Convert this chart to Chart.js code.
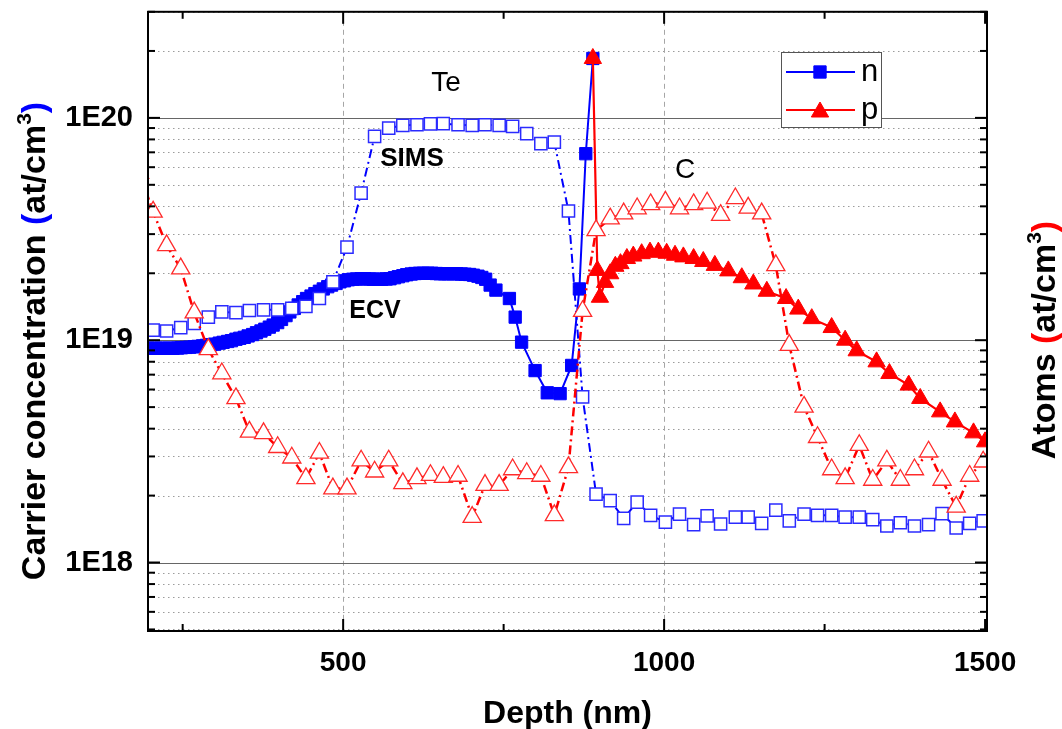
<!DOCTYPE html>
<html>
<head>
<meta charset="utf-8">
<title>Carrier and dopant depth profiles</title>
<script src="https://cdn.jsdelivr.net/npm/chart.js@4.4.1/dist/chart.umd.min.js"></script>
<style>
  html, body { margin: 0; padding: 0; background: #fff; }
  #wrap { width: 1062px; height: 729px; }
</style>
</head>
<body>
<div id="wrap"><canvas id="profile" width="1062" height="729"></canvas></div>
<script>
// Concentrations are listed in units of 1E18 at/cm3.
const UNIT = 1e18;

// SIMS profiles share one depth grid (nm).
const simsDepth = [183, 204, 225, 247, 268, 290, 311, 333, 354, 376,
  398, 420, 442, 463, 484, 506, 528, 549, 571, 593,
  615, 636, 656, 679, 701, 721, 743, 764, 786, 808,
  829, 851, 873, 894, 916, 937, 958, 979, 1002, 1024,
  1046, 1067, 1088, 1111, 1131, 1152, 1174, 1195, 1218, 1239,
  1261, 1282, 1304, 1325, 1347, 1368, 1390, 1412, 1433, 1455,
  1476, 1497, 1519];

// Te atoms (SIMS)
const teSims = [null, 11.1, 11.0, 11.4, 11.9, 12.7, 13.4, 13.3, 13.6, 13.7,
  13.7, 13.9, 14.2, 15.4, 18.3, 26.2, 45.9, 82.6, 89.9, 92.5,
  93.1, 94.0, 94.2, 93.1, 92.5, 93.1, 92.5, 91.6, 84.9, 76.6,
  77.8, 38.1, 5.56, 2.03, 1.90, 1.58, 1.87, 1.63, 1.52, 1.65,
  1.48, 1.62, 1.49, 1.60, 1.60, 1.50, 1.72, 1.54, 1.65, 1.63,
  1.63, 1.60, 1.60, 1.56, 1.46, 1.51, 1.46, 1.48, 1.66, 1.43,
  1.50, 1.54, null];

// C atoms (SIMS)
const cSims = [56.4, 37.8, 26.7, 21.0, 13.3, 9.1, 7.08, 5.47, 3.87, 3.81,
  3.30, 2.96, 2.39, 3.11, 2.15, 2.15, 2.87, 2.56, 2.87, 2.27,
  2.39, 2.47, 2.42, 2.45, 1.60, 2.23, 2.23, 2.62, 2.52, 2.45,
  1.63, 2.68, 13.5, 31.2, 35.2, 37.1, 39.1, 40.8, 41.9, 39.1,
  40.8, 41.5, 36.5, 43.4, 39.4, 37.1, 21.7, 9.5, 5.01, 3.66,
  2.62, 2.39, 3.37, 2.35, 2.87, 2.35, 2.62, 3.15, 2.35, 1.78,
  2.45, 2.84, 3.94];

// Electron concentration n (ECV)
const ecvNDepth = [190, 196, 203, 209, 216, 222, 229, 235, 242, 248,
  255, 261, 268, 274, 281, 287, 294, 300, 307, 313,
  320, 326, 333, 339, 346, 352, 359, 365, 372, 378,
  385, 391, 398, 404, 411, 417, 424, 430, 437, 443,
  450, 456, 463, 469, 476, 482, 489, 495, 502, 508,
  515, 521, 528, 534, 541, 547, 554, 560, 567, 573,
  580, 586, 593, 599, 606, 612, 619, 625, 632, 638,
  645, 651, 658, 664, 671, 677, 684, 690, 697, 703,
  710, 716, 722, 729, 738, 759, 768, 778, 799, 818,
  838, 856, 868, 878, 889];
const ecvN = [9.2, 9.2, 9.2, 9.2, 9.2, 9.2, 9.2, 9.2, 9.22, 9.25,
  9.28, 9.3, 9.33, 9.38, 9.43, 9.48, 9.55, 9.6, 9.7, 9.78,
  9.87, 9.95, 10.1, 10.2, 10.3, 10.45, 10.6, 10.8, 11.0, 11.2,
  11.45, 11.7, 12.0, 12.4, 12.9, 13.4, 13.9, 14.4, 14.9, 15.4,
  15.8, 16.2, 16.6, 17.0, 17.4, 17.7, 18.0, 18.3, 18.5, 18.7,
  18.8, 18.85, 18.9, 18.9, 18.85, 18.8, 18.8, 18.8, 18.85, 18.9,
  19.1, 19.3, 19.5, 19.7, 19.85, 19.95, 20.0, 20.0, 20.0, 20.0,
  19.95, 19.9, 19.9, 19.9, 19.9, 19.9, 19.85, 19.8, 19.75, 19.6,
  19.4, 19.15, 18.8, 17.7, 16.8, 15.4, 12.7, 9.8, 7.3, 5.8,
  5.75, 7.7, 17.0, 69, 185];

// Hole concentration p (ECV)
const ecvPDepth = [889, 896, 900, 908, 916, 924, 932, 942, 952, 965,
  978, 991, 1004, 1017, 1030, 1046, 1061, 1079, 1100, 1121,
  1139, 1160, 1190, 1209, 1230, 1261, 1282, 1300, 1331, 1351,
  1381, 1399, 1430, 1453, 1482, 1500];
const ecvP = [185, 20.6, 15.6, 18.2, 19.9, 21.5, 22.1, 23.3, 23.9, 24.5,
  24.9, 24.9, 24.6, 24.1, 23.7, 23.3, 22.6, 21.7, 20.5, 19.1,
  17.9, 16.6, 15.4, 13.8, 12.5, 11.4, 10.0, 8.96, 7.99, 7.08,
  6.28, 5.47, 4.76, 4.29, 3.83, 3.49];

// Axis ticks
const xTickValues = [500, 1000, 1500];
const xMinorTickValues = [250, 750, 1250];
const xGridValues = [500, 1000];
const yTickValues = [1e18, 1e19, 1e20];
const yTickLabels = ['1E18', '1E19', '1E20'];

const BLUE = '#0000ff';
const RED = '#ff0000';
const FONT = '"Liberation Sans", Arial, sans-serif';

function points(depths, values) {
  const out = [];
  depths.forEach((d, i) => {
    if (values[i] !== null) out.push({ x: d, y: values[i] * UNIT });
  });
  return out;
}

const DASH_DOT = [9, 4, 2, 4];

const decorations = {
  id: 'decorations',
  beforeDatasetsDraw(chart) {
    const { ctx, chartArea: a, scales: { x, y } } = chart;
    ctx.save();
    ctx.beginPath();
    ctx.rect(a.left, a.top, a.right - a.left, a.bottom - a.top);
    ctx.clip();
    // dotted minor lines of the log axis
    ctx.strokeStyle = '#9c9c9c';
    ctx.lineWidth = 1;
    ctx.setLineDash([1.5, 3.5]);
    for (let d = 17; d <= 20; d++) {
      for (let m = 2; m <= 9; m++) {
        const v = m * Math.pow(10, d);
        if (v < y.min || v > y.max) continue;
        const py = Math.round(y.getPixelForValue(v)) + 0.5;
        ctx.beginPath(); ctx.moveTo(a.left, py); ctx.lineTo(a.right, py); ctx.stroke();
      }
    }
    // dashed vertical grid
    ctx.strokeStyle = '#a6a6a6';
    ctx.setLineDash([5, 4]);
    xGridValues.forEach(v => {
      const px = Math.round(x.getPixelForValue(v)) + 0.5;
      ctx.beginPath(); ctx.moveTo(px, a.top); ctx.lineTo(px, a.bottom); ctx.stroke();
    });
    // solid decade lines
    ctx.setLineDash([]);
    ctx.strokeStyle = '#666';
    ctx.lineWidth = 1.2;
    yTickValues.forEach(v => {
      const py = Math.round(y.getPixelForValue(v)) + 0.5;
      ctx.beginPath(); ctx.moveTo(a.left, py); ctx.lineTo(a.right, py); ctx.stroke();
    });
    ctx.restore();
  },
  afterDatasetsDraw(chart) {
    const { ctx, chartArea: a, scales: { x, y } } = chart;
    ctx.save();
    // frame
    ctx.strokeStyle = '#000';
    ctx.lineWidth = 2;
    ctx.strokeRect(a.left, a.top, a.right - a.left, a.bottom - a.top);
    // inward tick marks
    const tick = (x1, y1, x2, y2) => { ctx.beginPath(); ctx.moveTo(x1, y1); ctx.lineTo(x2, y2); ctx.stroke(); };
    for (let d = 17; d <= 20; d++) {
      for (let m = 1; m <= 9; m++) {
        const v = m * Math.pow(10, d);
        if (v < y.min || v > y.max) continue;
        const py = y.getPixelForValue(v);
        const len = m === 1 ? 12 : 7;
        tick(a.left, py, a.left + len, py);
        tick(a.right, py, a.right - len, py);
      }
    }
    xTickValues.forEach(v => {
      const px = x.getPixelForValue(v);
      tick(px, a.bottom, px, a.bottom - 12);
      tick(px, a.top, px, a.top + 12);
    });
    xMinorTickValues.forEach(v => {
      const px = x.getPixelForValue(v);
      tick(px, a.bottom, px, a.bottom - 7);
      tick(px, a.top, px, a.top + 7);
    });

    // curve annotations
    ctx.fillStyle = '#000';
    ctx.textAlign = 'center';
    ctx.textBaseline = 'middle';
    ctx.font = '28px ' + FONT;
    ctx.fillText('Te', 446, 83);
    ctx.fillText('C', 685, 170);
    ctx.font = 'bold 26px ' + FONT;
    ctx.fillText('SIMS', 412, 159);
    ctx.font = 'bold 25px ' + FONT;
    ctx.fillText('ECV', 375, 311);

    // legend
    const lx = 781, ly = 52, lw = 100, lh = 75;
    ctx.fillStyle = '#fff';
    ctx.fillRect(lx, ly, lw, lh);
    ctx.strokeStyle = '#555';
    ctx.lineWidth = 1;
    ctx.strokeRect(lx + 0.5, ly + 0.5, lw, lh);
    const rows = [chart.data.datasets[0], chart.data.datasets[1]];
    rows.forEach((ds, i) => {
      const ry = ly + 20 + i * 38;
      ctx.strokeStyle = ds.borderColor;
      ctx.lineWidth = 2;
      ctx.beginPath(); ctx.moveTo(lx + 5, ry); ctx.lineTo(lx + 74, ry); ctx.stroke();
      ctx.fillStyle = ds.pointBackgroundColor;
      ctx.strokeStyle = ds.pointBorderColor;
      ctx.lineWidth = ds.pointBorderWidth;
      Chart.helpers.drawPoint(ctx, {
        pointStyle: ds.pointStyle, radius: ds.pointRadius, rotation: 0,
        borderWidth: ds.pointBorderWidth
      }, lx + 39, ry + (ds.pointStyle === 'triangle' ? 2 : 0));
      ctx.fillStyle = '#000';
      ctx.textAlign = 'left';
      ctx.textBaseline = 'middle';
      ctx.font = '31px ' + FONT;
      ctx.fillText(ds.label, lx + 80, ry);
    });

    // axis titles
    ctx.textBaseline = 'alphabetic';
    ctx.fillStyle = '#000';
    ctx.font = 'bold 32px ' + FONT;
    ctx.textAlign = 'center';
    ctx.fillText('Depth (nm)', (a.left + a.right) / 2, 723);

    drawRich(ctx, [
      { t: 'Carrier concentration ', c: '#000' },
      { t: '(', c: BLUE },
      { t: 'at/cm', c: '#000' },
      { t: '3', c: '#000', sup: true },
      { t: ')', c: BLUE }
    ], 45, 341, 34);
    drawRich(ctx, [
      { t: 'Atoms ', c: '#000' },
      { t: '(', c: RED },
      { t: 'at/cm', c: '#000' },
      { t: '3', c: '#000', sup: true },
      { t: ')', c: RED }
    ], 1055, 340, 34);
    ctx.restore();
  }
};

// Vertical title made of coloured runs; (cx, cy) is the baseline centre.
function drawRich(ctx, runs, cx, cy, size) {
  const big = 'bold ' + size + 'px ' + FONT;
  const small = 'bold ' + Math.round(size * 0.62) + 'px ' + FONT;
  let total = 0;
  runs.forEach(r => { ctx.font = r.sup ? small : big; r.w = ctx.measureText(r.t).width; total += r.w; });
  ctx.save();
  ctx.translate(cx, cy);
  ctx.rotate(-Math.PI / 2);
  ctx.textAlign = 'left';
  ctx.textBaseline = 'alphabetic';
  let pos = -total / 2;
  runs.forEach(r => {
    ctx.font = r.sup ? small : big;
    ctx.fillStyle = r.c;
    ctx.fillText(r.t, pos, r.sup ? -size * 0.42 : 0);
    pos += r.w;
  });
  ctx.restore();
}

new Chart(document.getElementById('profile'), {
  type: 'line',
  data: {
    datasets: [
      {
        label: 'n',
        data: points(ecvNDepth, ecvN),
        borderColor: BLUE, borderWidth: 2,
        pointStyle: 'rect', pointRadius: 8.7, pointBorderWidth: 1,
        pointBackgroundColor: BLUE, pointBorderColor: BLUE,
        order: 4, clip: 0
      },
      {
        label: 'p',
        data: points(ecvPDepth, ecvP),
        borderColor: RED, borderWidth: 2.2,
        pointStyle: 'triangle', pointRadius: 10, pointBorderWidth: 1,
        pointBackgroundColor: RED, pointBorderColor: RED,
        order: 3, clip: 0
      },
      {
        label: 'Te SIMS',
        data: points(simsDepth, teSims),
        borderColor: BLUE, borderWidth: 2, borderDash: DASH_DOT,
        pointStyle: 'rect', pointRadius: 8.6, pointBorderWidth: 1.5,
        pointBackgroundColor: '#fff', pointBorderColor: '#2b2bff',
        order: 2, clip: 0
      },
      {
        label: 'C SIMS',
        data: points(simsDepth, cSims),
        borderColor: RED, borderWidth: 2.5, borderDash: DASH_DOT,
        pointStyle: 'triangle', pointRadius: 10.5, pointBorderWidth: 1.3,
        pointBackgroundColor: '#fff', pointBorderColor: '#ff2b2b',
        order: 1, clip: 0
      }
    ]
  },
  options: {
    responsive: false,
    devicePixelRatio: 1,
    animation: false,
    layout: { padding: { left: 0, right: 75, top: 11, bottom: 0 } },
    elements: { line: { tension: 0 } },
    scales: {
      x: {
        type: 'linear', min: 196, max: 1503,
        grid: { display: false }, border: { display: false },
        afterBuildTicks(s) { s.ticks = xTickValues.map(v => ({ value: v })); },
        afterFit(s) { s.height = 98; s.paddingLeft = 0; s.paddingRight = 0; },
        ticks: {
          autoSkip: false, maxRotation: 0, padding: 7, color: '#000',
          font: { family: FONT, size: 28, weight: 'bold' },
          callback: v => String(v)
        }
      },
      y: {
        type: 'logarithmic', min: 4.92e17, max: 3.0e20,
        grid: { display: false }, border: { display: false },
        afterBuildTicks(s) { s.ticks = yTickValues.map(v => ({ value: v })); },
        afterFit(s) { s.width = 148; s.paddingTop = 0; s.paddingBottom = 0; },
        ticks: {
          autoSkip: false, padding: 7, color: '#000',
          font: { family: FONT, size: 29, weight: 'bold' },
          callback: v => {
            const i = yTickValues.findIndex(t => Math.abs(t - v) / t < 1e-6);
            return i >= 0 ? yTickLabels[i] : '';
          }
        }
      }
    },
    plugins: { legend: { display: false }, tooltip: { enabled: false } }
  },
  plugins: [decorations]
});
</script>
</body>
</html>
